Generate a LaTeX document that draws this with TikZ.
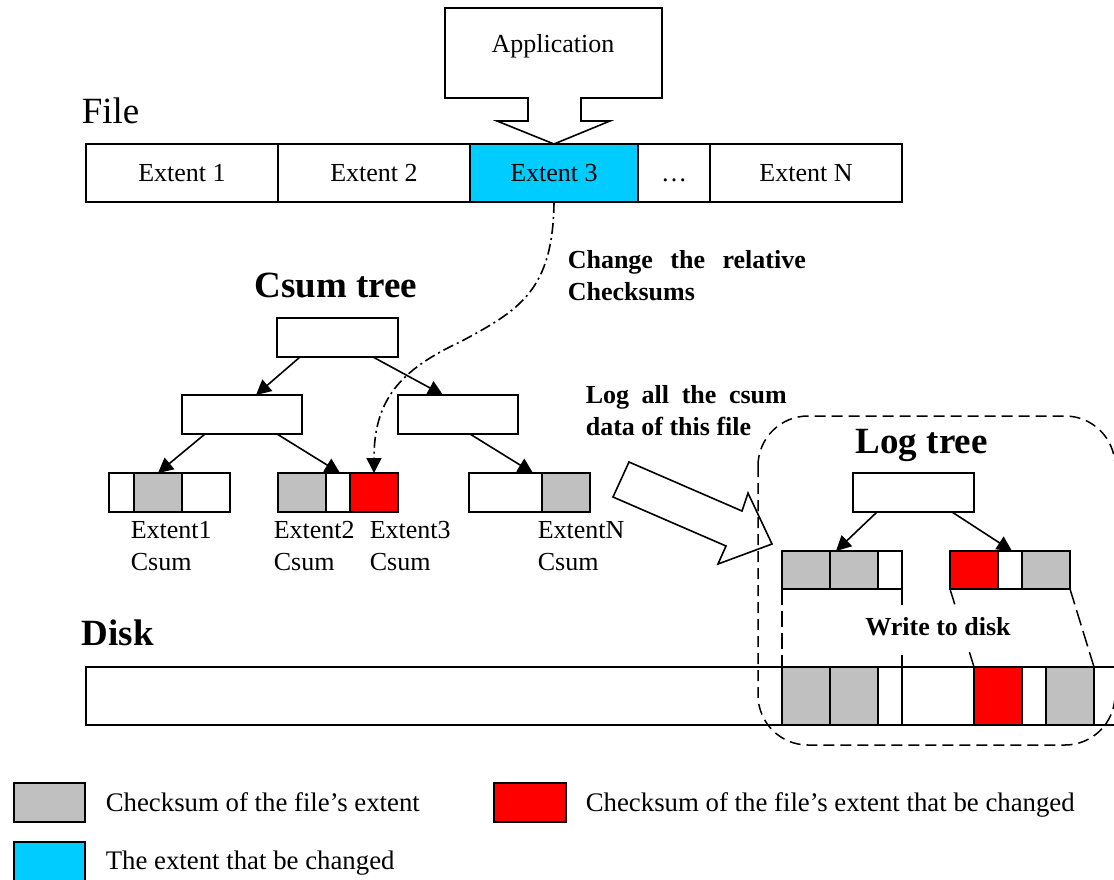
\documentclass[tikz,border=0pt]{standalone}
\usepackage{fontspec}
\setmainfont{Liberation Serif}
\usetikzlibrary{arrows.meta,calc}

\definecolor{sumgray}{RGB}{192,192,192}
\definecolor{hotred}{RGB}{255,0,0}
\definecolor{extcyan}{RGB}{0,204,255}

% a plain rectangular cell given by its left, right, top and bottom edges
\newcommand\xcell[6]{%
  \node[cell, fill=#6, minimum width={#3-#2}, minimum height={#5-#4},
        anchor=north west] (#1) at (#2,#4) {};}

\begin{document}
\begin{tikzpicture}[x=1pt,y=-1pt,
  line width=1.6pt,
  body/.style={font=\fontsize{26}{32}\selectfont},
  keytext/.style={font=\fontsize{26.8}{32}\selectfont},
  note/.style={font=\fontsize{26}{32}\selectfont\bfseries},
  ttl/.style={font=\fontsize{37}{44}\selectfont},
  bttl/.style={font=\fontsize{37}{44}\selectfont\bfseries},
  cell/.style={draw, inner sep=0pt, outer sep=0pt},
  filecell/.style={draw, inner sep=0pt, outer sep=0pt, minimum height=58pt,
                   text height=16pt, text depth=0pt, body, anchor=north west},
  treebox/.style={draw, fill=white, inner sep=0pt, outer sep=0pt,
                  minimum width=121pt, minimum height=39pt},
  tip/.style={-{Triangle[length=15pt,width=15pt]}},
  chain/.style={dash pattern=on 11pt off 4pt on 2pt off 4pt},
  proj/.style={line width=1.5pt, dash pattern=on 16pt off 6pt},
  group/.style={line width=1.5pt, dash pattern=on 11pt off 6pt, rounded corners=50pt},
]
\clip (0,0) rectangle (1114,879);
\fill[white] (0,0) rectangle (1114,879);

% ---------- file and its extents ----------
\node[ttl, anchor=base west, inner sep=0pt] (filelbl) at (81,123) {File};
\node[filecell, minimum width=192pt] (e1) at (86,144) {Extent 1};
\node[filecell, minimum width=192pt] (e2) at (278,144) {Extent 2};
\node[filecell, minimum width=168pt, fill=extcyan] (e3) at (470,144) {Extent 3};
\node[filecell, minimum width=72pt] (edots) at (638,144) {…};
\node[filecell, minimum width=192pt] (eN) at (710,144) {Extent N};

% ---------- application callout ----------
\draw[fill=white] (445,8) -- (662,8) -- (662,98) -- (581,98) -- (581,121)
  -- (610,121) -- (e3.north) -- (497,121) -- (528,121) -- (528,98)
  -- (445,98) -- cycle;
\node[body, anchor=base, inner sep=0pt] (app) at (553,52) {Application};

% ---------- checksum tree ----------
\node[bttl, anchor=base, inner sep=0pt] (csumlbl) at (336,297) {Csum tree};
\node[treebox] (croot) at (337.5,337.5) {};
\node[treebox, minimum width=120pt] (cl) at (242,414.5) {};
\node[treebox, minimum width=120pt] (cr) at (458,414.5) {};

\xcell{la}{109}{134}{473}{512}{white}
\xcell{lb}{134}{182}{473}{512}{sumgray}
\xcell{lc}{182}{230}{473}{512}{white}
\xcell{ma}{278}{326}{473}{512}{sumgray}
\xcell{mb}{326}{350}{473}{512}{white}
\xcell{mc}{350}{398}{473}{512}{hotred}
\xcell{na}{469}{542}{473}{512}{white}
\xcell{nb}{542}{590}{473}{512}{sumgray}

\draw[tip] ([xshift=23pt]croot.south west) -- ([xshift=14pt]cl.north);
\draw[tip] ([xshift=96pt]croot.south west) -- ([xshift=-15pt]cr.north);
\draw[tip] ([xshift=23pt]cl.south west) -- (lb.north);
\draw[tip] ([xshift=95pt]cl.south west) -- ([xshift=2pt]mb.north);
\draw[tip] ([xshift=72pt]cr.south west) -- ([xshift=-9pt]na.north east);

\node[body, anchor=north west, align=left, inner sep=0pt] (t1) at (130,520.5) {Extent1\\Csum};
\node[body, anchor=north west, align=left, inner sep=0pt] (t2) at (273,520.5) {Extent2\\Csum};
\node[body, anchor=north west, align=left, inner sep=0pt] (t3) at (369,520.5) {Extent3\\Csum};
\node[body, anchor=north west, align=left, inner sep=0pt] (tN) at (537,520.5) {ExtentN\\Csum};

% ---------- change of the checksums ----------
\coordinate (bend) at (460,342);
\draw[chain, tip] (e3.south) .. controls (553,290) and (520,310) .. (bend)
  .. controls (400,370) and (374,400) .. (mc.north);
\node[note, anchor=north west, align=left, inner sep=0pt] (chg) at (567,250)
  {\makebox[238pt][s]{Change the relative}\\Checksums};

% ---------- logging ----------
\node[note, anchor=north west, align=left, inner sep=0pt] (lognote) at (585,385)
  {\makebox[201pt][s]{Log all the csum}\\data of this file};
\draw[fill=white] (629,462) -- (742,511) -- (748,493) -- (772,544) -- (718,564)
  -- (726,546) -- (613,497) -- cycle;

% ---------- disk ----------
\node[bttl, anchor=base west, inner sep=0pt] (disklbl) at (81,645) {Disk};
\node[cell, fill=white, minimum width=1060pt, minimum height=58pt,
      anchor=north west] (disk) at (86,667) {};
\xcell{d1}{782}{830}{667}{725}{sumgray}
\xcell{d2}{830}{878}{667}{725}{sumgray}
\xcell{d3}{878}{902}{667}{725}{white}
\xcell{d4}{974}{1022}{667}{725}{hotred}
\xcell{d5}{1022}{1046}{667}{725}{white}
\xcell{d6}{1046}{1094}{667}{725}{sumgray}

% ---------- log tree ----------
\node[bttl, anchor=base west, inner sep=0pt] (loglbl) at (855,453) {Log tree};
\node[treebox] (lroot) at (913.5,492.5) {};
\xcell{ga}{782}{830}{551}{589}{sumgray}
\xcell{gb}{830}{878}{551}{589}{sumgray}
\xcell{gc}{878}{902}{551}{589}{white}
\xcell{ra}{950}{998}{551}{589}{hotred}
\xcell{rb}{998}{1022}{551}{589}{white}
\xcell{rc}{1022}{1070}{551}{589}{sumgray}
\draw[tip] ([xshift=24pt]lroot.south west) -- ([xshift=6pt]gb.north west);
\draw[tip] ([xshift=99pt]lroot.south west) -- ([xshift=2pt]rb.north);

% ---------- written to disk ----------
\draw[proj] (ga.south west) -- (d1.north west);
\draw[proj] (gc.south east) -- (d3.north east);
\draw[proj] (ra.south west) -- (d4.north west);
\draw[proj] (rc.south east) -- (d6.north east);
\node[note, fill=white, text height=20pt, text depth=5pt, inner sep=10pt,
      anchor=base] (wtd) at (938,635) {Write to disk};

\draw[group] (758,416) rectangle (1115,745);

% ---------- legend ----------
\xcell{kgray}{14}{85}{783}{822}{sumgray}
\node[keytext, anchor=base west, inner sep=0pt] (kgraytxt) at (105,811) {Checksum of the file’s extent};
\xcell{kred}{494}{566}{783}{822}{hotred}
\node[keytext, anchor=base west, inner sep=0pt] (kredtxt) at (585,811) {Checksum of the file’s extent that be changed};
\xcell{kcyan}{14}{85}{842}{884}{extcyan}
\node[keytext, anchor=base west, inner sep=0pt] (kcyantxt) at (105,869) {The extent that be changed};
\end{tikzpicture}
\end{document}
